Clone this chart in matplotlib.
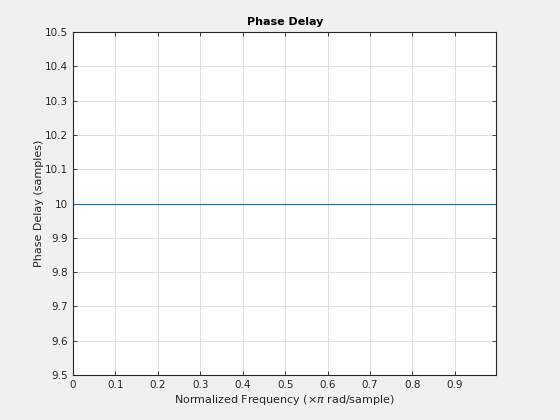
import numpy as np
import matplotlib
matplotlib.use('Agg')
import matplotlib.pyplot as plt

# phase delay of the filter (constant 10 samples)
freq = [0.0, 0.998]
delay = [10.0, 10.0]
xticks = [0, 0.1, 0.2, 0.3, 0.4, 0.5, 0.6, 0.7, 0.8, 0.9]
yticks = [9.5, 9.6, 9.7, 9.8, 9.9, 10, 10.1, 10.2, 10.3, 10.4, 10.5]

fig = plt.figure(figsize=(5.6, 4.2), dpi=100, facecolor='#f0f0f0')
ax = fig.add_axes([0.1304, 0.1071, 0.7562, 0.8167])
ax.plot(freq, delay, color='#0072bd', lw=0.8)

ax.set_xlim(0, 0.998)
ax.set_ylim(9.5, 10.5)
ax.set_xticks(xticks)
ax.set_xticklabels(['0'] + [f'{v:g}' for v in xticks[1:]])
ax.set_yticks(yticks)
ax.set_yticklabels([f'{v:g}' for v in yticks])
ax.grid(True, color='#d9d9d9', lw=0.6)
ax.tick_params(direction='in', top=True, right=True, labelsize=7.5,
               colors='#262626', length=3, width=0.6)
for s in ax.spines.values():
    s.set_color('#262626')
    s.set_linewidth(0.8)

ax.set_title('Phase Delay', fontsize=8, fontweight='bold', color='black', pad=5)
ax.set_xlabel(r'Normalized Frequency ($\times\pi$ rad/sample)', fontsize=8, color='#262626', labelpad=2)
ax.set_ylabel('Phase Delay (samples)', fontsize=8, color='#262626', labelpad=1)

fig.savefig('out.png', dpi=100, facecolor=fig.get_facecolor())
